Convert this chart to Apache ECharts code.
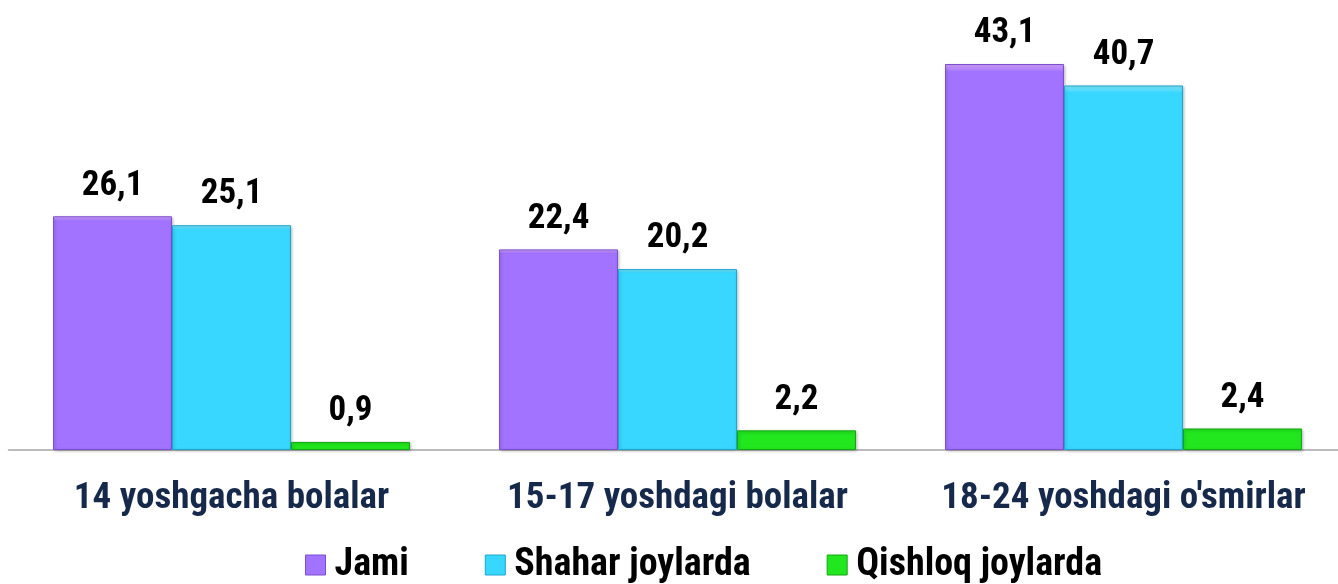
<!DOCTYPE html>
<html><head><meta charset="utf-8">
<script src="https://cdn.jsdelivr.net/npm/echarts@6/dist/echarts.min.js"></script>
<style>html,body{margin:0;padding:0;background:#fff}#c{width:1338px;height:584px}</style>
</head><body><div id="c"></div>
<script>
const categories = ["14 yoshgacha bolalar", "15-17 yoshdagi bolalar", "18-24 yoshdagi o'smirlar"];
const seriesNames = ["Jami", "Shahar joylarda", "Qishloq joylarda"];
const jami = [26.1, 22.4, 43.1];
const shahar = [25.1, 20.2, 40.7];
const qishloq = [0.9, 2.2, 2.4];

const FONT = '"Roboto Condensed","Liberation Sans Narrow","Arial Narrow",Roboto,sans-serif';
const colors = ['#A173FF', '#38D7FF', '#22E61E'];
const borders = ['#7B4FD0', '#1AA8D0', '#12A812'];
const tops = ['#D9A8FF', '#8BEBFF', '#8AF58A'];
const fmt = p => p.value.toFixed(1).replace('.', ',');

function mk(name, data, i) {
  return {
    name, type: 'bar', data, barWidth: 119, barGap: '0%',
    itemStyle: {
      color: new echarts.graphic.LinearGradient(0, 0, 0, 1, [
        {offset: 0, color: tops[i]}, {offset: 0.02, color: colors[i]}, {offset: 1, color: colors[i]}
      ]),
      borderColor: borders[i], borderWidth: 1,
      shadowColor: 'rgba(0,0,0,0.25)', shadowBlur: 3, shadowOffsetX: 1, shadowOffsetY: 1
    },
    label: {show: true, position: 'top', distance: 13, formatter: fmt,
      fontFamily: FONT, fontWeight: 'bold', fontSize: 35, color: '#000'}
  };
}

const chart = echarts.init(document.getElementById('c'));
chart.setOption({
  animation: false,
  grid: {left: 8.5, top: 47, width: 1338, height: 403, outerBoundsMode: 'none', containLabel: false},
  legend: {
    data: seriesNames.map((n, i) => ({name: n, icon: 'rect', itemStyle: {color: colors[i], borderColor: borders[i], borderWidth: 1}})),
    bottom: -5, left: 300, itemWidth: 20, itemHeight: 20, itemGap: 76,
    textStyle: {fontFamily: FONT, fontWeight: 'bold', fontSize: 38, color: '#000', padding: [0, 0, 0, 4]}
  },
  xAxis: {
    type: 'category', data: categories,
    axisLine: {lineStyle: {color: '#A6A6A6', width: 1.5}},
    axisTick: {show: false},
    axisLabel: {interval: 0, fontFamily: FONT, fontWeight: 'bold', fontSize: 37, color: '#17294A', margin: 30}
  },
  yAxis: {type: 'value', min: 0, max: 45, show: false, splitLine: {show: false}},
  series: [mk(seriesNames[0], jami, 0), mk(seriesNames[1], shahar, 1), mk(seriesNames[2], qishloq, 2)]
});
</script></body></html>
